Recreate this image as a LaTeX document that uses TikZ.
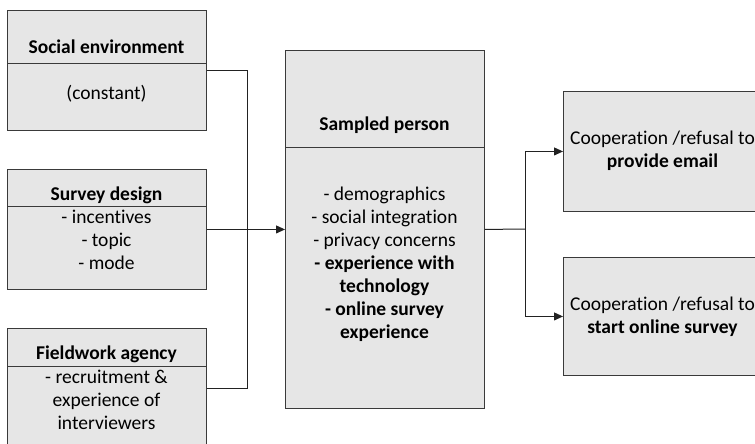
\documentclass[tikz,border=0pt]{standalone}
\usepackage{fontspec}
\setmainfont{Carlito}[Ligatures={NoCommon}]
\usetikzlibrary{arrows.meta}
\definecolor{boxfill}{HTML}{E6E6E6}
\definecolor{boxline}{HTML}{3A3A3A}
\definecolor{linecol}{HTML}{222222}
\begin{document}
\begin{tikzpicture}[x=1pt,y=-1pt,
  box/.style={draw=boxline, fill=boxfill, line width=0.9pt, rectangle,
    anchor=north west, inner sep=0pt, minimum width=199pt},
  divider/.style={draw=boxline, line width=0.9pt},
  txt/.style={align=center, font=\fontsize{19.5}{23}\selectfont, inner sep=0pt},
  ttl/.style={txt, font=\fontsize{19.5}{23}\selectfont\bfseries},
  conn/.style={draw=linecol, line width=1pt},
  arr/.style={conn, -{Triangle[length=9pt,width=8pt]}}]
\clip (0,0) rectangle (755,444);
\useasboundingbox (0,0) rectangle (755,444);

% left column: influences
\node[box, minimum height=120pt] (soc) at (7,10) {};
\draw[divider] (7,63) -- (206,63);
\node[ttl] (socT) at (106.5,47) {Social environment};
\node[txt] (socB) at (106.5,94) {(constant)};

\node[box, minimum height=120pt] (survey) at (7,169) {};
\draw[divider] (7,206) -- (206,206);
\node[ttl] (surveyT) at (106.5,195) {Survey design};
\node[txt] (surveyB) at (106.5,240) {- incentives\\- topic\\- mode};

\node[box, minimum height=120pt] (field) at (7,328) {};
\draw[divider] (7,366) -- (206,366);
\node[ttl] (fieldT) at (106.5,354) {Fieldwork agency};
\node[txt] (fieldB) at (106.5,400) {- recruitment \&\\experience of\\interviewers};

% centre: the sampled person
\node[box, minimum height=358pt] (sampled) at (285,50) {};
\draw[divider] (285,147) -- (484,147);
\node[ttl] (sampledT) at (384.5,125) {Sampled person};
\node[txt] (sampledB) at (384.5,264) {- demographics\\- social integration\\- privacy concerns\\
  \textbf{- experience with}\\\textbf{technology}\\\textbf{- online survey}\\\textbf{experience}};

% right column: outcomes
\node[box, minimum height=120pt] (r1) at (563,91) {};
\node[txt] (r1T) at (662.5,151) {Cooperation /refusal to\\\textbf{provide email}};
\node[box, minimum height=118pt] (r2) at (563,257) {};
\node[txt] (r2T) at (662.5,317) {Cooperation /refusal to\\\textbf{start online survey}};

% connectors
\coordinate (busL) at (247,229);
\coordinate (busR) at (525,229);
\draw[conn] (soc.east) -| (busL);
\draw[conn] (field.east) -| (busL);
\draw[arr] (survey.east) -- (sampled.west);
\draw[conn] (sampled.east) -- (busR);
\draw[arr] (busR) |- (r1.west);
\draw[arr] (busR) |- (r2.west);
\end{tikzpicture}
\end{document}
